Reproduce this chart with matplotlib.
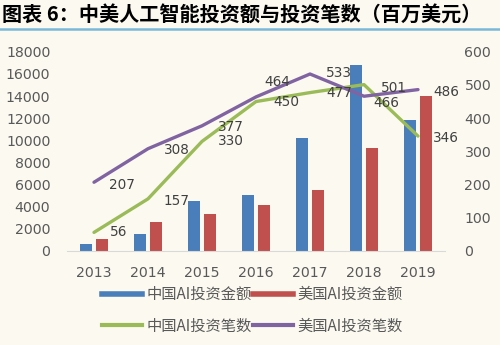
import matplotlib.pyplot as plt
import numpy as np
from matplotlib.lines import Line2D

plt.rcParams['font.family'] = ['Noto Sans CJK SC', 'DejaVu Sans']

years = ['2013', '2014', '2015', '2016', '2017', '2018', '2019']
cn_amount = [600, 1540, 4520, 5060, 10180, 16800, 11830]
us_amount = [1110, 2620, 3320, 4130, 5480, 9280, 13970]
cn_count = [56, 157, 330, 450, 477, 501, 346]
us_count = [207, 308, 377, 464, 533, 466, 486]

# label offsets from each point, in pixels (right, up)
cn_off = [(25, 0), (29, -2), (29, 0), (30, 0), (29, 0), (30, -3), (28, -2)]
us_off = [(28, -3), (29, -1), (29, -1), (21, 15), (29, 1), (22, -7), (28, -2)]

BLUE = '#4a7ebb'
RED = '#c0504d'
GREEN = '#9bbb59'
PURPLE = '#8064a2'
BG = '#fcfaf0'
GREY = '#595959'

fig = plt.figure(figsize=(5, 3.45), dpi=100, facecolor=BG)
ax = fig.add_axes([0.134, 0.2725, 0.756, 0.5775])
ax.set_facecolor(BG)
ax2 = ax.twinx()

x = np.arange(len(years))
w = 0.22
ax.bar(x - 0.15, cn_amount, w, color=BLUE)
ax.bar(x + 0.15, us_amount, w, color=RED)
ax.set_ylim(0, 18000)
ax.set_yticks(np.arange(0, 18001, 2000))
ax.set_xlim(-0.5, 6.5)
ax.set_xticks(x, years)

ax2.plot(x, cn_count, color=GREEN, lw=2.4, solid_capstyle='round')
ax2.plot(x, us_count, color=PURPLE, lw=2.4, solid_capstyle='round')
ax2.set_ylim(0, 600)
ax2.set_yticks(np.arange(0, 601, 100))

for vals, offs in ((cn_count, cn_off), (us_count, us_off)):
    for i, v in enumerate(vals):
        dx, dy = offs[i]
        ax2.annotate(str(v), (x[i], v), xytext=(dx * 0.72, dy * 0.72),
                     textcoords='offset points', ha='center', va='center',
                     fontsize=9.8, color='#404040', family='DejaVu Sans')

for a in (ax, ax2):
    for s in a.spines.values():
        s.set_visible(False)
    a.tick_params(length=0, labelsize=10.2, labelcolor=GREY)
    for lab in a.get_yticklabels() + a.get_xticklabels():
        lab.set_family('DejaVu Sans')
ax.spines['bottom'].set_visible(True)
ax.spines['bottom'].set_color('#d9d9d9')
ax.tick_params(axis='y', pad=12)
ax.tick_params(axis='x', pad=11)
ax2.tick_params(axis='y', pad=14)

handles = [Line2D([], [], color=BLUE, lw=4), Line2D([], [], color=GREEN, lw=3),
           Line2D([], [], color=RED, lw=4), Line2D([], [], color=PURPLE, lw=3)]
labels = ['中国AI投资金额', '中国AI投资笔数', '美国AI投资金额', '美国AI投资笔数']
fig.legend(handles, labels, ncol=2, loc='center', bbox_to_anchor=(0.505, 0.1),
           frameon=False, fontsize=11, labelcolor=GREY, handlelength=2.6,
           handletextpad=0.3, columnspacing=0.1, labelspacing=0.95)

fig.text(0.004, 0.958, '图表 6：中美人工智能投资额与投资笔数（百万美元）', ha='left', va='center',
         fontsize=14.5, fontweight='bold', color='black')
fig.add_artist(Line2D([0, 1], [0.915, 0.915], color='#7ab8d9', lw=1.8))

fig.savefig('out.png', dpi=100, facecolor=BG)
